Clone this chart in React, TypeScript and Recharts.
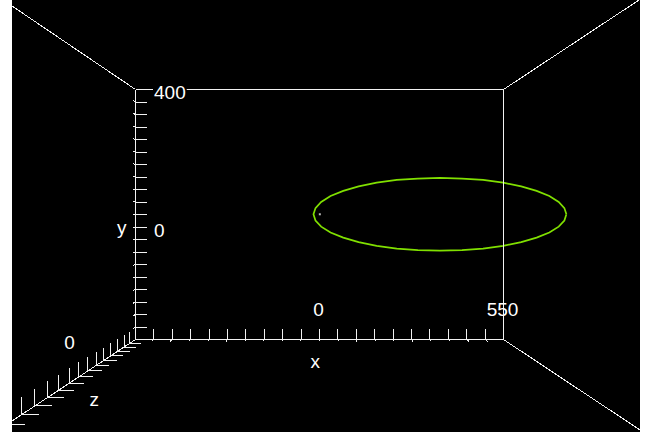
import React from 'react';
import { ComposedChart, XAxis, YAxis, Line, Scatter, ReferenceLine, ReferenceDot } from 'recharts';

// ---- data -------------------------------------------------------------
// Green ellipse, in the units of the back wall's x / y scales.
const ELLIPSE_X = [738, 732, 715, 687, 649, 603, 549, 489, 426, 360, 294, 231, 171, 117, 71, 33, 5, -12, -18, -12, 5, 33, 71, 117, 171, 231, 294, 360, 426, 489, 549, 603, 649, 687, 715, 732, 738];
const ELLIPSE_Y = [37, 55, 73, 90, 105, 118, 129, 137, 141, 143, 141, 137, 129, 118, 105, 90, 73, 55, 37, 19, 1, -16, -31, -44, -55, -63, -67, -69, -67, -63, -55, -44, -31, -16, 1, 19, 37];
// Small point inside the ellipse.
const MARKER_X = [1];
const MARKER_Y = [37];

// Axis ranges and labels.
const X_MIN = -550;
const X_MAX = 550;
const X_STEP = 55;
const Y_MAX = 400;
const Y_STEP = 400 / 11;
const Y_INTERVALS = 20;
const Z_INTERVALS = 20;
const X_LABELS = [0, 550];
const Y_LABELS = [400, 0];
const Z_LABELS = ['0'];
const AXIS_TITLES = ['x', 'y', 'z'];

// ---- layout (pixels inside the 628x432 canvas) --------------------------
const W = 628;
const H = 432;
const WALL = { left: 123.5, right: 491.5, top: 89.5, bottom: 339.5 };
const TICK = 11;
const VP = { x: 305.3, y: 212 }; // vanishing point of the receding edges
const Z_DEPTH_STEP = 0.0297; // perspective shrink per z tick
const Z_SLOPE = -81.5 / 123.5; // screen slope of the z axis
// where the receding edges leave the canvas
const EDGE_EXITS = [
  { from: [WALL.left, WALL.top], to: [0, 6] },
  { from: [WALL.right, WALL.top], to: [627, 0] },
  { from: [WALL.right, WALL.bottom], to: [628, 430] },
  { from: [WALL.left, WALL.bottom], to: [0, 421] },
];
const Z_LABEL_POS = [[57.5, 349.3]];
const TITLE_POS = [[303.3, 368.3], [109.7, 234], [82.2, 406]];

const FONT = "'Liberation Sans', Arial, Helvetica, sans-serif";
const FONT_SIZE = 19;
const LINE = '#f2f2f2';

// ---- scale set-up --------------------------------------------------------
const Y_MIN = Y_MAX - Y_STEP * Y_INTERVALS;
const UX = (X_MAX - X_MIN) / (WALL.right - WALL.left);
const UY = (Y_MAX - Y_MIN) / (WALL.bottom - WALL.top);
const X_DOMAIN: [number, number] = [X_MIN - WALL.left * UX, X_MAX + (W - WALL.right) * UX];
const Y_DOMAIN: [number, number] = [Y_MIN - (H - WALL.bottom) * UY, Y_MAX + WALL.top * UY];
const toX = (px: number) => X_DOMAIN[0] + px * UX;
const toY = (py: number) => Y_DOMAIN[1] - py * UY;
const pxX = (v: number) => (v - X_DOMAIN[0]) / UX;
const pxY = (v: number) => (Y_DOMAIN[1] - v) / UY;

type Seg = { key: string; a: [number, number]; b: [number, number] };
const segPx = (key: string, ax: number, ay: number, bx: number, by: number): Seg => ({
  key,
  a: [toX(ax), toY(ay)],
  b: [toX(bx), toY(by)],
});

const ellipseData = ELLIPSE_X.map((x, i) => ({ x, y: ELLIPSE_Y[i] }));
const markerData = MARKER_X.map((x, i) => ({ x, y: MARKER_Y[i] }));

function buildFrame(): Seg[] {
  const segs: Seg[] = [];
  // back wall
  segs.push(segPx('wall-top', WALL.left, WALL.top, WALL.right, WALL.top));
  segs.push(segPx('wall-right', WALL.right, WALL.top, WALL.right, WALL.bottom));
  segs.push(segPx('wall-bottom', WALL.left, WALL.bottom, WALL.right, WALL.bottom));
  segs.push(segPx('wall-left', WALL.left, WALL.top, WALL.left, WALL.bottom));
  // receding edges, run past the canvas border
  EDGE_EXITS.forEach((e, i) => {
    const [fx, fy] = e.from;
    const [tx, ty] = e.to;
    segs.push(segPx('edge-' + i, fx, fy, fx + (tx - fx) * 2, fy + (ty - fy) * 2));
  });
  // x ticks on the back bottom edge
  for (let i = 0; i <= (X_MAX - X_MIN) / X_STEP; i++) {
    const px = pxX(X_MIN + i * X_STEP);
    const py = WALL.bottom;
    segs.push(segPx('xt-' + i, px, py, px, py - TICK));
    segs.push(segPx('xz-' + i, px, py, px + (px - VP.x) * 0.015, py + (py - VP.y) * 0.015));
  }
  // y ticks on the back left edge
  for (let i = 0; i <= Y_INTERVALS; i++) {
    const px = WALL.left;
    const py = pxY(Y_MAX - i * Y_STEP);
    segs.push(segPx('yt-' + i, px, py, px + TICK, py));
    segs.push(segPx('yz-' + i, px, py, px + (px - VP.x) * 0.015, py + (py - VP.y) * 0.015));
  }
  // z ticks along the receding bottom-left edge
  for (let k = 0; k <= Z_INTERVALS; k++) {
    const s = 1 / (1 - Z_DEPTH_STEP * k);
    const bx = VP.x + (WALL.left - VP.x) * s;
    const by = WALL.bottom + (bx - WALL.left) * Z_SLOPE;
    const len = TICK * s;
    segs.push(segPx('zv-' + k, bx, by, bx, by - len));
    segs.push(segPx('zh-' + k, bx, by, bx + len, by));
  }
  return segs;
}

const FRAME = buildFrame();

function textShape(text: string, anchor: 'start' | 'middle' | 'end', dx: number, dy: number, backdrop = false) {
  return (p: any) => {
    const x = p.cx + dx;
    const y = p.cy + dy;
    const w = text.length * FONT_SIZE * 0.556 + 2;
    const left = anchor === 'start' ? x - 1 : anchor === 'middle' ? x - w / 2 : x - w;
    return (
      <g>
        {backdrop && <rect x={left} y={y - 15} width={w} height={17} fill="#000" />}
        <text x={x} y={y} textAnchor={anchor} fill="#ffffff" fontFamily={FONT} fontSize={FONT_SIZE}>
          {text}
        </text>
      </g>
    );
  };
}

export default function App() {
  return (
    <div
      style={{
        position: 'absolute',
        left: 12,
        top: 0,
        width: W,
        height: H,
        background: '#000',
        overflow: 'hidden',
      }}
    >
      <ComposedChart width={W} height={H} margin={{ top: 0, right: 0, bottom: 0, left: 0 }}>
        <XAxis type="number" dataKey="x" domain={X_DOMAIN} allowDataOverflow hide />
        <YAxis type="number" dataKey="y" domain={Y_DOMAIN} allowDataOverflow hide />

        <Line
          data={ellipseData}
          dataKey="y"
          type="linear"
          stroke="#80e000"
          strokeWidth={1.7}
          dot={false}
          activeDot={false}
          isAnimationActive={false}
        />
        <Scatter
          data={markerData}
          dataKey="y"
          isAnimationActive={false}
          shape={(p: any) => <rect x={p.cx - 1} y={p.cy - 1} width={2} height={2} fill="#b8b8b8" />}
        />

        {FRAME.map((s) => (
          <ReferenceLine
            key={s.key}
            segment={[
              { x: s.a[0], y: s.a[1] },
              { x: s.b[0], y: s.b[1] },
            ]}
            stroke={LINE}
            strokeWidth={1}
            shapeRendering="crispEdges"
            ifOverflow="visible"
          />
        ))}

        {Y_LABELS.map((v) => (
          <ReferenceDot
            key={'yl-' + v}
            x={X_MIN}
            y={v}
            r={0}
            ifOverflow="visible"
            shape={textShape(String(v), 'start', 18.5, 9.5, true)}
          />
        ))}
        {X_LABELS.map((v) => (
          <ReferenceDot
            key={'xl-' + v}
            x={v}
            y={Y_MIN}
            r={0}
            ifOverflow="visible"
            shape={textShape(String(v), 'middle', -1, -23.5)}
          />
        ))}
        {Z_LABELS.map((t, i) => (
          <ReferenceDot
            key={'zl-' + i}
            x={toX(Z_LABEL_POS[i][0])}
            y={toY(Z_LABEL_POS[i][1])}
            r={0}
            ifOverflow="visible"
            shape={textShape(t, 'middle', 0, 0)}
          />
        ))}
        {AXIS_TITLES.map((t, i) => (
          <ReferenceDot
            key={'title-' + t}
            x={toX(TITLE_POS[i][0])}
            y={toY(TITLE_POS[i][1])}
            r={0}
            ifOverflow="visible"
            shape={textShape(t, 'middle', 0, 0)}
          />
        ))}
      </ComposedChart>
    </div>
  );
}
